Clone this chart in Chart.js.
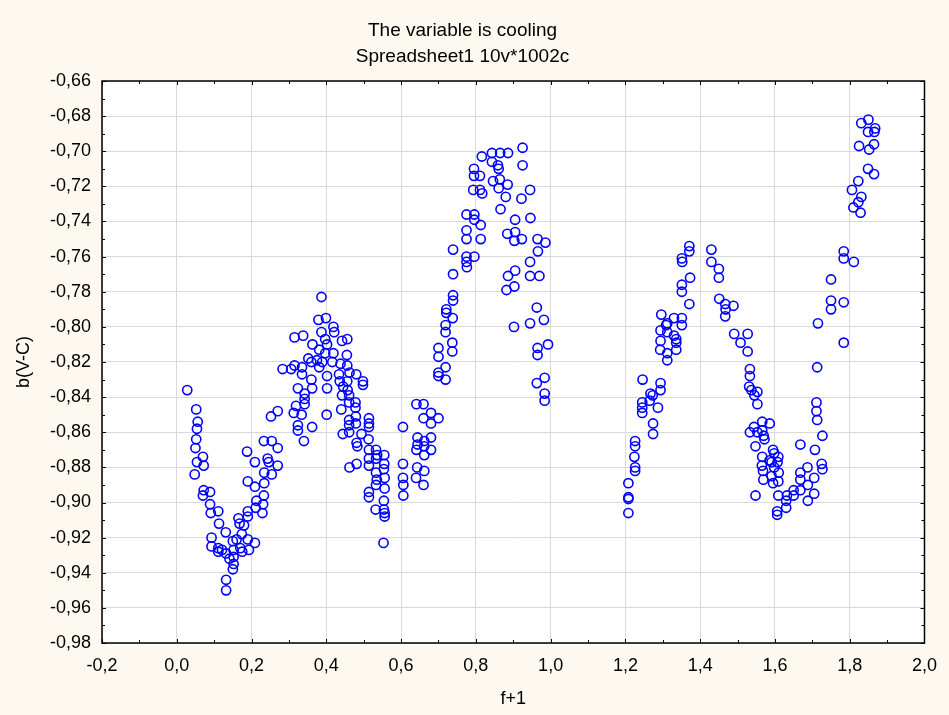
<!DOCTYPE html>
<html>
<head>
<meta charset="utf-8">
<title>The variable is cooling</title>
<script src="https://cdn.jsdelivr.net/npm/chart.js@4.4.1/dist/chart.umd.min.js"></script>
<style>
  html, body { margin: 0; padding: 0; background: #fdf9f0; }
  canvas { display: block; }
</style>
</head>
<body>
<canvas id="lightCurve" width="949" height="715"></canvas>
<script>
// Phase (f+1) and colour index b(V-C)

// first cycle, phase 0.0 - 0.6
const phaseA = [
  0.028, 0.052, 0.056, 0.054, 0.052, 0.050, 0.054, 0.070, 0.072, 0.048, 0.072, 0.070, 0.089, 0.089, 0.091,
  0.111, 0.113, 0.093, 0.093, 0.111, 0.131, 0.111, 0.132, 0.150, 0.152, 0.152, 0.152, 0.150, 0.132, 0.132,
  0.165, 0.168, 0.174, 0.170, 0.190, 0.193, 0.209, 0.190, 0.190, 0.211, 0.213, 0.229, 0.231, 0.233, 0.209,
  0.190, 0.234, 0.209, 0.188, 0.233, 0.254, 0.270, 0.243, 0.246, 0.270, 0.234, 0.254, 0.252, 0.270,
  0.121, 0.141, 0.160, 0.180, 0.175,
  0.387, 0.379, 0.399, 0.315, 0.338, 0.387, 0.419, 0.421, 0.397, 0.363, 0.402, 0.442, 0.456, 0.381, 0.397,
  0.419, 0.455, 0.352, 0.360, 0.375, 0.389, 0.416, 0.283, 0.306, 0.315, 0.335, 0.381, 0.438, 0.456, 0.462,
  0.335, 0.402, 0.434, 0.480, 0.498, 0.498, 0.360, 0.362, 0.324, 0.436, 0.456, 0.445, 0.457, 0.402, 0.342,
  0.342, 0.342, 0.319, 0.442, 0.461, 0.461, 0.478, 0.478, 0.440, 0.313, 0.334, 0.401, 0.479, 0.461, 0.461,
  0.479, 0.514, 0.514, 0.514, 0.324, 0.324, 0.362, 0.461, 0.444, 0.494, 0.605, 0.513, 0.340, 0.481, 0.483,
  0.514, 0.533, 0.536, 0.555, 0.514, 0.533, 0.555, 0.514, 0.481, 0.462, 0.605, 0.554, 0.533, 0.556, 0.535,
  0.605, 0.606, 0.606, 0.533, 0.556, 0.514, 0.514, 0.554, 0.532, 0.554, 0.556, 0.556, 0.553
];
const bvcA = [
  -0.836, -0.847, -0.854, -0.858, -0.864, -0.869, -0.877, -0.874, -0.879, -0.884, -0.893, -0.896, -0.894, -0.901, -0.906,
  -0.905, -0.912, -0.920, -0.925, -0.926, -0.917, -0.928, -0.929, -0.922, -0.927, -0.931, -0.935, -0.938, -0.944, -0.950,
  -0.909, -0.912, -0.918, -0.926, -0.921, -0.927, -0.923, -0.905, -0.908, -0.903, -0.899, -0.906, -0.901, -0.896, -0.891,
  -0.888, -0.889, -0.877, -0.871, -0.865, -0.865, -0.869, -0.875, -0.877, -0.879, -0.883, -0.884, -0.851, -0.848,
  -0.927, -0.932, -0.921, -0.913, -0.928,
  -0.783, -0.796, -0.795, -0.806, -0.805, -0.803, -0.800, -0.803, -0.807, -0.810, -0.810, -0.808, -0.807, -0.813, -0.815,
  -0.815, -0.816, -0.818, -0.820, -0.819, -0.820, -0.820, -0.824, -0.824, -0.822, -0.823, -0.823, -0.821, -0.822, -0.826,
  -0.827, -0.828, -0.827, -0.827, -0.831, -0.833, -0.830, -0.835, -0.835, -0.831, -0.831, -0.834, -0.836, -0.835, -0.838,
  -0.841, -0.844, -0.845, -0.839, -0.839, -0.843, -0.843, -0.846, -0.847, -0.849, -0.850, -0.850, -0.851, -0.853, -0.856,
  -0.855, -0.852, -0.855, -0.857, -0.856, -0.859, -0.857, -0.860, -0.861, -0.861, -0.857, -0.864, -0.865, -0.866, -0.868,
  -0.870, -0.870, -0.873, -0.873, -0.875, -0.875, -0.878, -0.879, -0.878, -0.880, -0.878, -0.881, -0.883, -0.886, -0.887,
  -0.886, -0.890, -0.896, -0.890, -0.892, -0.894, -0.897, -0.899, -0.904, -0.904, -0.906, -0.908, -0.923
];

// second cycle, phase 0.6 - 1.0
const phaseB = [
  0.641, 0.660, 0.680, 0.700, 0.660, 0.680, 0.644, 0.680, 0.644, 0.662, 0.641, 0.662, 0.680, 0.662, 0.643,
  0.662, 0.640, 0.660, 0.700, 0.700, 0.737, 0.737, 0.719, 0.700, 0.700, 0.719, 0.721, 0.721, 0.738, 0.719,
  0.719, 0.739, 0.739, 0.739, 0.739, 0.775, 0.796, 0.796, 0.813, 0.775, 0.775, 0.813, 0.775, 0.796, 0.775,
  0.776, 0.816, 0.843, 0.865, 0.886, 0.925, 0.925, 0.843, 0.859, 0.861, 0.795, 0.795, 0.811, 0.846, 0.864,
  0.885, 0.861, 0.793, 0.811, 0.817, 0.880, 0.922, 0.945, 0.866, 0.905, 0.946, 0.884, 0.905, 0.903, 0.923,
  0.965, 0.986, 0.966, 0.945, 0.886, 0.905, 0.945, 0.970, 0.882, 0.903, 0.963, 0.945, 0.982, 0.902, 0.993,
  0.965, 0.965, 0.984, 0.963, 0.984, 0.984
];
const bvcB = [
  -0.844, -0.844, -0.849, -0.852, -0.852, -0.855, -0.863, -0.863, -0.867, -0.865, -0.870, -0.868, -0.870, -0.873, -0.880,
  -0.882, -0.886, -0.890, -0.812, -0.817, -0.809, -0.814, -0.823, -0.826, -0.828, -0.830, -0.790, -0.792, -0.795, -0.799,
  -0.803, -0.782, -0.785, -0.770, -0.756, -0.736, -0.736, -0.739, -0.742, -0.745, -0.750, -0.750, -0.760, -0.760, -0.763,
  -0.766, -0.703, -0.701, -0.701, -0.701, -0.698, -0.708, -0.706, -0.708, -0.710, -0.710, -0.714, -0.714, -0.717, -0.716,
  -0.719, -0.721, -0.722, -0.722, -0.724, -0.726, -0.727, -0.722, -0.733, -0.739, -0.738, -0.747, -0.746, -0.751, -0.750,
  -0.750, -0.752, -0.757, -0.763, -0.771, -0.768, -0.771, -0.771, -0.779, -0.777, -0.789, -0.798, -0.796, -0.800, -0.810,
  -0.812, -0.816, -0.829, -0.832, -0.838, -0.842
];

// third cycle, phase 1.2 - 1.9
const phaseC = [
  1.371, 1.371, 1.351, 1.352, 1.430, 1.430, 1.450, 1.450, 1.373, 1.351, 1.351, 1.371, 1.451, 1.467, 1.489,
  1.468, 1.467, 1.296, 1.330, 1.351, 1.312, 1.309, 1.351, 1.294, 1.491, 1.508, 1.330, 1.336, 1.336, 1.294,
  1.312, 1.293, 1.336, 1.312, 1.312, 1.246, 1.294, 1.294, 1.267, 1.273, 1.265, 1.245, 1.245, 1.245, 1.287,
  1.274, 1.274, 1.226, 1.226, 1.224, 1.226, 1.226, 1.208, 1.208, 1.208, 1.208,
  1.527, 1.527, 1.533, 1.533, 1.531, 1.537, 1.553, 1.545, 1.553, 1.566, 1.586, 1.544, 1.533, 1.553, 1.566,
  1.570, 1.572, 1.548, 1.668, 1.595, 1.598, 1.707, 1.566, 1.609, 1.586, 1.565, 1.591, 1.607, 1.687, 1.725,
  1.727, 1.568, 1.598, 1.610, 1.668, 1.569, 1.591, 1.595, 1.668, 1.705, 1.609, 1.548, 1.668, 1.650, 1.688,
  1.705, 1.609, 1.632, 1.650, 1.630, 1.630, 1.688, 1.606, 1.606,
  1.784, 1.784, 1.750, 1.750, 1.784, 1.750, 1.715, 1.784, 1.713, 1.711, 1.711, 1.713, 1.727,
  1.850, 1.831, 1.868, 1.849, 1.866, 1.825, 1.865, 1.852, 1.849, 1.865, 1.823, 1.806, 1.831, 1.823, 1.810,
  1.829, 1.811
];
const bvcC = [
  -0.754, -0.757, -0.761, -0.763, -0.756, -0.763, -0.767, -0.772, -0.772, -0.776, -0.780, -0.787, -0.784, -0.787, -0.788,
  -0.790, -0.794, -0.793, -0.795, -0.795, -0.798, -0.799, -0.799, -0.802, -0.804, -0.809, -0.805, -0.807, -0.809, -0.808,
  -0.803, -0.813, -0.813, -0.815, -0.819, -0.830, -0.832, -0.836, -0.838, -0.839, -0.842, -0.843, -0.846, -0.849, -0.846,
  -0.855, -0.861, -0.865, -0.868, -0.874, -0.880, -0.882, -0.889, -0.897, -0.898, -0.906,
  -0.804, -0.814, -0.824, -0.828, -0.834, -0.836, -0.837, -0.839, -0.844, -0.854, -0.855, -0.857, -0.860, -0.860, -0.859,
  -0.862, -0.864, -0.868, -0.867, -0.870, -0.872, -0.870, -0.874, -0.874, -0.876, -0.879, -0.877, -0.877, -0.880, -0.878,
  -0.881, -0.882, -0.880, -0.883, -0.883, -0.887, -0.885, -0.889, -0.887, -0.886, -0.888, -0.896, -0.893, -0.893, -0.890,
  -0.895, -0.896, -0.896, -0.896, -0.899, -0.903, -0.899, -0.905, -0.907,
  -0.757, -0.761, -0.773, -0.785, -0.786, -0.790, -0.798, -0.809, -0.823, -0.843, -0.848, -0.853, -0.862,
  -0.682, -0.684, -0.687, -0.689, -0.689, -0.697, -0.696, -0.699, -0.710, -0.713, -0.717, -0.722, -0.726, -0.729, -0.732,
  -0.735, -0.763
];

const bgColor = '#fdf9f0';
const gridColor = '#d9d9d9';
const comma = (v, d) => v.toFixed(d).replace('.', ',');
const toPoints = (xs, ys) => xs.map((x, i) => ({ x, y: ys[i] }));

const points = [
  ...toPoints(phaseA, bvcA),
  ...toPoints(phaseB, bvcB),
  ...toPoints(phaseC, bvcC)
];

// cream page, white plot area, black frame with small inward ticks
const framePlugin = {
  id: 'frame',
  beforeDraw(chart) {
    const { ctx, chartArea: a } = chart;
    ctx.save();
    ctx.fillStyle = bgColor;
    ctx.fillRect(0, 0, chart.width, chart.height);
    ctx.fillStyle = '#ffffff';
    ctx.fillRect(a.left, a.top, a.right - a.left, a.bottom - a.top);
    ctx.restore();
  },
  afterDraw(chart) {
    const { ctx, chartArea: a, scales: { x, y } } = chart;
    ctx.save();
    ctx.strokeStyle = '#000';
    ctx.lineWidth = 1;
    ctx.beginPath();
    for (let i = 0; i <= 22; i++) {
      const px = Math.round(x.getPixelForValue(-0.2 + i * 0.1)) + 0.5;
      const len = i % 2 ? 3 : 4;
      ctx.moveTo(px, a.bottom); ctx.lineTo(px, a.bottom - len);
      ctx.moveTo(px, a.top); ctx.lineTo(px, a.top + len);
    }
    for (let i = 0; i <= 32; i++) {
      const py = Math.round(y.getPixelForValue(-0.98 + i * 0.01)) + 0.5;
      const len = i % 2 ? 3 : 4;
      ctx.moveTo(a.left, py); ctx.lineTo(a.left + len, py);
      ctx.moveTo(a.right, py); ctx.lineTo(a.right - len, py);
    }
    ctx.stroke();
    ctx.lineWidth = 1.5;
    ctx.strokeRect(a.left, a.top, a.right - a.left, a.bottom - a.top);
    ctx.restore();
  }
};

Chart.defaults.font.family = "'Liberation Sans', Arial, sans-serif";
Chart.defaults.color = '#000';

new Chart(document.getElementById('lightCurve'), {
  type: 'scatter',
  data: {
    datasets: [{
      label: 'b(V-C)',
      data: points,
      pointStyle: 'circle',
      pointRadius: 4.6,
      pointHoverRadius: 4.6,
      borderWidth: 1.6,
      borderColor: '#0000ff',
      backgroundColor: 'rgba(0,0,0,0)'
    }]
  },
  options: {
    responsive: false,
    animation: false,
    devicePixelRatio: 1,
    layout: { padding: { left: 0, right: 24, top: 0, bottom: 0 } },
    plugins: {
      legend: { display: false },
      tooltip: { enabled: false },
      title: {
        display: true,
        text: ['The variable is cooling', 'Spreadsheet1 10v*1002c'],
        color: '#000',
        font: { size: 19, weight: 'normal', lineHeight: 26 / 19 },
        padding: { top: 18, bottom: 11 }
      }
    },
    scales: {
      x: {
        type: 'linear',
        min: -0.2,
        max: 2.0,
        afterFit(s) { s.height = 72; },
        border: { display: false },
        grid: { color: gridColor, drawTicks: false },
        ticks: {
          stepSize: 0.2,
          padding: 12,
          font: { size: 18 },
          callback: v => comma(v, 1)
        },
        title: {
          display: true,
          text: 'f+1',
          font: { size: 18 },
          padding: { top: 0, bottom: 5 }
        }
      },
      y: {
        type: 'linear',
        min: -0.98,
        max: -0.66,
        afterFit(s) { s.width = 102; },
        border: { display: false },
        grid: { color: gridColor, drawTicks: false },
        ticks: {
          stepSize: 0.02,
          padding: 11,
          font: { size: 18 },
          callback: v => comma(v, 2)
        },
        title: {
          display: true,
          text: 'b(V-C)',
          font: { size: 18 },
          padding: { top: 13, bottom: 0 }
        }
      }
    }
  },
  plugins: [framePlugin]
});
</script>
</body>
</html>
